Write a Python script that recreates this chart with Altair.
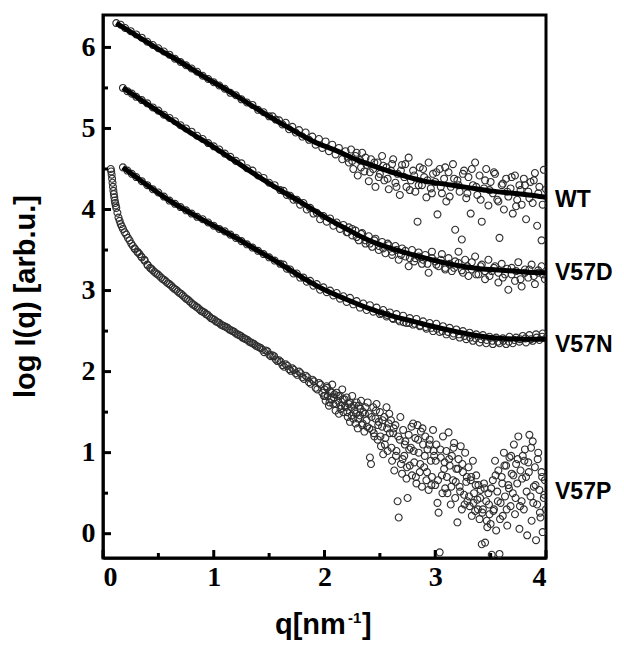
import altair as alt
import pandas as pd

# ---------------- fitted curves (solid black lines) ----------------
fit_wt_q = [0.12, 0.3, 0.5, 0.7, 0.9, 1.1, 1.3, 1.5, 1.7, 1.9, 2.1, 2.3, 2.5, 2.7, 2.9, 3.1, 3.3, 3.5, 3.7, 3.9, 4.0]
fit_wt_y = [6.30, 6.15, 5.98, 5.82, 5.65, 5.49, 5.32, 5.15, 4.99, 4.84, 4.73, 4.61, 4.51, 4.42, 4.35, 4.31, 4.27, 4.23, 4.20, 4.17, 4.15]

fit_d_q = [0.18, 0.4, 0.6, 0.8, 1.0, 1.2, 1.4, 1.6, 1.8, 2.0, 2.2, 2.4, 2.6, 2.8, 3.0, 3.2, 3.4, 3.6, 3.8, 4.0]
fit_d_y = [5.50, 5.30, 5.12, 4.94, 4.77, 4.59, 4.41, 4.24, 4.08, 3.91, 3.76, 3.62, 3.52, 3.44, 3.37, 3.31, 3.27, 3.25, 3.23, 3.22]

fit_n_q = [0.18, 0.4, 0.6, 0.8, 1.0, 1.2, 1.4, 1.6, 1.8, 2.0, 2.2, 2.4, 2.6, 2.8, 3.0, 3.2, 3.4, 3.6, 3.8, 4.0]
fit_n_y = [4.52, 4.30, 4.11, 3.95, 3.80, 3.65, 3.49, 3.33, 3.16, 3.01, 2.89, 2.78, 2.69, 2.62, 2.55, 2.49, 2.44, 2.41, 2.40, 2.40]

# ---------------- measured points (open circles) ----------------
wt_q = [0.12, 0.16, 0.20, 0.25, 0.30, 0.35, 0.40, 0.45, 0.50, 0.55, 0.60, 0.65, 0.70, 0.75, 0.80, 0.85, 0.90, 0.95,
        1.00, 1.05, 1.10, 1.15, 1.20, 1.25, 1.30, 1.35, 1.40, 1.45, 1.50,
        1.53, 1.56, 1.59, 1.62, 1.65, 1.68, 1.71, 1.74, 1.77, 1.80, 1.83, 1.86, 1.89, 1.92, 1.95, 1.98,
        2.01, 2.04, 2.07, 2.10, 2.13, 2.16, 2.19,
        2.22, 2.24, 2.26, 2.28, 2.30, 2.32, 2.34, 2.36, 2.38, 2.40, 2.42, 2.44, 2.46, 2.48, 2.50, 2.52,
        2.54, 2.56, 2.58, 2.60, 2.62, 2.64, 2.66, 2.68, 2.70, 2.72, 2.74, 2.76, 2.78, 2.80, 2.82, 2.84,
        2.86, 2.88, 2.90, 2.92, 2.94, 2.96, 2.98, 3.00, 3.02, 3.04, 3.06, 3.08, 3.10, 3.12, 3.14, 3.16,
        3.18, 3.20, 3.22, 3.24, 3.26, 3.28, 3.30, 3.32, 3.34, 3.36, 3.38, 3.40, 3.42, 3.44, 3.46, 3.48,
        3.50, 3.52, 3.54, 3.56, 3.58, 3.60, 3.62, 3.64, 3.66, 3.68, 3.70, 3.72, 3.74, 3.76, 3.78, 3.80,
        3.82, 3.84, 3.86, 3.88, 3.90, 3.92, 3.94, 3.96, 3.98, 4.00]
wt_y = [6.30, 6.28, 6.24, 6.20, 6.16, 6.12, 6.07, 6.03, 5.99, 5.95, 5.91, 5.86, 5.82, 5.78, 5.74, 5.70, 5.65, 5.61,
        5.57, 5.53, 5.49, 5.44, 5.41, 5.36, 5.32, 5.29, 5.23, 5.20, 5.15,
        5.15, 5.11, 5.10, 5.05, 5.07, 4.99, 5.02, 4.95, 4.98, 4.90, 4.95, 4.86, 4.90, 4.80, 4.87, 4.76,
        4.84, 4.72, 4.80, 4.68, 4.76, 4.62, 4.72,
        4.58, 4.74, 4.50, 4.66, 4.42, 4.61, 4.70, 4.47, 4.55, 4.35, 4.62, 4.50, 4.28, 4.58, 4.44, 4.66,
        4.36, 4.52, 4.25, 4.48, 4.62, 4.33, 4.44, 4.18, 4.55, 4.40, 4.28, 4.64, 4.36, 4.48, 4.22, 3.85,
        4.52, 4.30, 4.40, 4.15, 4.58, 4.26, 4.44, 4.34, 3.94, 4.50, 4.20, 4.38, 4.10, 4.46, 4.28, 4.56,
        3.75, 4.36, 4.22, 3.63, 4.48, 4.14, 4.40, 3.95, 4.30, 4.58, 4.18, 4.42, 3.85, 4.26, 4.50, 4.05,
        4.34, 4.20, 4.44, 4.12, 3.65, 4.30, 4.00, 4.38, 4.16, 4.26, 3.95, 4.42, 4.12, 4.30, 4.06, 4.38,
        3.88, 4.22, 4.34, 4.08, 4.45, 3.80, 4.28, 3.62, 4.49, 4.25]
wt2_q = [2.21, 2.25, 2.29, 2.33, 2.37, 2.41, 2.45, 2.49, 2.53, 2.57, 2.61, 2.65, 2.69, 2.73, 2.77, 2.81,
         2.85, 2.89, 2.93, 2.97, 3.01, 3.05, 3.09, 3.13, 3.17, 3.21, 3.25, 3.29, 3.33, 3.37, 3.41, 3.45,
         3.49, 3.53, 3.57, 3.61, 3.65, 3.69, 3.73, 3.77, 3.81, 3.85, 3.89, 3.93, 3.97]
wt2_y = [4.64, 4.60, 4.70, 4.52, 4.64, 4.46, 4.58, 4.40, 4.54, 4.38, 4.56, 4.28, 4.48, 4.56, 4.24, 4.42,
         4.30, 4.50, 4.36, 4.20, 4.46, 4.28, 4.52, 4.16, 4.38, 4.30, 4.44, 4.20, 4.50, 4.28, 4.12, 4.36,
         4.24, 4.46, 4.10, 4.32, 4.22, 4.40, 4.04, 4.24, 4.30, 4.14, 4.36, 4.20, 4.06]

d_q = [0.18, 0.22, 0.26, 0.30, 0.35, 0.40, 0.45, 0.50, 0.55, 0.60, 0.65, 0.70, 0.75, 0.80, 0.85, 0.90, 0.95,
       1.00, 1.05, 1.10, 1.15, 1.20, 1.25, 1.30, 1.35, 1.40, 1.45, 1.50, 1.55, 1.60,
       1.63, 1.66, 1.69, 1.72, 1.75, 1.78, 1.81, 1.84, 1.87, 1.90, 1.93, 1.96, 1.99, 2.02, 2.05, 2.08,
       2.11, 2.14, 2.17, 2.20,
       2.22, 2.25, 2.28, 2.31, 2.34, 2.37, 2.40, 2.43, 2.46, 2.49, 2.52, 2.55, 2.58, 2.61, 2.64, 2.67,
       2.70, 2.73, 2.76, 2.79, 2.82, 2.85, 2.88, 2.91, 2.94, 2.97, 3.00, 3.03, 3.06, 3.09, 3.12, 3.15,
       3.18, 3.21, 3.24, 3.27, 3.30, 3.33, 3.36, 3.39, 3.42, 3.45, 3.48, 3.51, 3.54, 3.57, 3.60, 3.63,
       3.66, 3.69, 3.72, 3.75, 3.78, 3.81, 3.84, 3.87, 3.90, 3.93, 3.96, 3.99]
d_y = [5.50, 5.46, 5.43, 5.39, 5.35, 5.31, 5.26, 5.22, 5.17, 5.13, 5.09, 5.04, 5.00, 4.96, 4.91, 4.87, 4.82,
       4.78, 4.74, 4.69, 4.65, 4.60, 4.57, 4.51, 4.48, 4.42, 4.39, 4.33, 4.30, 4.24,
       4.23, 4.18, 4.17, 4.12, 4.12, 4.06, 4.08, 4.00, 4.02, 3.95, 3.96, 3.88, 3.92, 3.85, 3.89, 3.80,
       3.84, 3.76, 3.81, 3.72,
       3.78, 3.68, 3.74, 3.62, 3.71, 3.58, 3.67, 3.54, 3.64, 3.50, 3.60, 3.46, 3.56, 3.44, 3.55, 3.38,
       3.52, 3.42, 3.30, 3.50, 3.40, 3.47, 3.33, 3.44, 3.22, 3.48, 3.36, 3.30, 3.45, 3.28, 3.40, 3.24,
       3.36, 3.48, 3.25, 3.38, 3.18, 3.35, 3.42, 3.20, 3.32, 3.14, 3.38, 3.24, 3.30, 3.10, 3.33, 3.20,
       3.01, 3.28, 3.12, 3.35, 3.05, 3.26, 3.16, 3.32, 3.08, 3.22, 3.30, 3.14]
d2_q = [2.21, 2.25, 2.29, 2.33, 2.37, 2.41, 2.45, 2.49, 2.53, 2.57, 2.61, 2.65, 2.69, 2.73, 2.77, 2.81,
        2.85, 2.89, 2.93, 2.97, 3.01, 3.05, 3.09, 3.13, 3.17, 3.21, 3.25, 3.29, 3.33, 3.37, 3.41, 3.45,
        3.49, 3.53, 3.57, 3.61, 3.65, 3.69, 3.73, 3.77, 3.81, 3.85, 3.89, 3.93, 3.97]
d2_y = [3.72, 3.76, 3.66, 3.70, 3.62, 3.58, 3.62, 3.55, 3.52, 3.58, 3.48, 3.50, 3.44, 3.49, 3.40, 3.36,
        3.42, 3.38, 3.33, 3.40, 3.32, 3.38, 3.26, 3.33, 3.28, 3.34, 3.22, 3.30, 3.26, 3.20, 3.30, 3.24,
        3.18, 3.28, 3.22, 3.16, 3.27, 3.20, 3.24, 3.14, 3.22, 3.26, 3.18, 3.25, 3.20]

n_q = [0.18, 0.22, 0.26, 0.30, 0.35, 0.40, 0.45, 0.50, 0.55, 0.60, 0.65, 0.70, 0.75, 0.80, 0.85, 0.90, 0.95,
       1.00, 1.05, 1.10, 1.15, 1.20, 1.25, 1.30, 1.35, 1.40, 1.45, 1.50, 1.55, 1.60,
       1.63, 1.66, 1.69, 1.72, 1.75, 1.78, 1.81, 1.84, 1.87, 1.90, 1.93, 1.96, 1.99, 2.02, 2.05, 2.08,
       2.11, 2.14, 2.17, 2.20, 2.23, 2.26, 2.29, 2.32, 2.35, 2.38, 2.41, 2.44, 2.47, 2.50, 2.53, 2.56,
       2.59, 2.62, 2.65, 2.68, 2.71, 2.74, 2.77, 2.80, 2.83, 2.86, 2.89, 2.92, 2.95, 2.98, 3.01, 3.04,
       3.07, 3.10, 3.13, 3.16, 3.19, 3.22, 3.25, 3.28, 3.31, 3.34, 3.37, 3.40, 3.43, 3.46, 3.49, 3.52,
       3.55, 3.58, 3.61, 3.64, 3.67, 3.70, 3.73, 3.76, 3.79, 3.82, 3.85, 3.88, 3.91, 3.94, 3.97, 4.00]
n_y = [4.52, 4.48, 4.44, 4.40, 4.35, 4.30, 4.25, 4.21, 4.16, 4.11, 4.07, 4.03, 3.99, 3.95, 3.91, 3.88, 3.84,
       3.80, 3.76, 3.73, 3.69, 3.65, 3.61, 3.57, 3.53, 3.49, 3.45, 3.41, 3.37, 3.33,
       3.32, 3.27, 3.26, 3.21, 3.21, 3.16, 3.16, 3.11, 3.12, 3.06, 3.08, 3.01, 3.04, 2.98, 3.00, 2.94,
       2.97, 2.90, 2.93, 2.86, 2.91, 2.83, 2.87, 2.79, 2.84, 2.76, 2.82, 2.74, 2.79, 2.71, 2.76, 2.68,
       2.73, 2.65, 2.71, 2.62, 2.69, 2.60, 2.66, 2.58, 2.65, 2.56, 2.62, 2.53, 2.60, 2.50, 2.59, 2.49,
       2.56, 2.46, 2.54, 2.44, 2.52, 2.42, 2.50, 2.40, 2.48, 2.38, 2.46, 2.36, 2.45, 2.35, 2.43, 2.34,
       2.42, 2.35, 2.41, 2.34, 2.43, 2.35, 2.42, 2.37, 2.44, 2.36, 2.45, 2.38, 2.46, 2.39, 2.47, 2.41]
n2_q = [2.515, 2.565, 2.615, 2.665, 2.715, 2.765, 2.815, 2.865, 2.915, 2.965, 3.015, 3.065, 3.115, 3.165, 3.215,
        3.265, 3.315, 3.365, 3.415, 3.465, 3.515, 3.565, 3.615, 3.665, 3.715, 3.765, 3.815, 3.865, 3.915, 3.965]
n2_y = [2.72, 2.70, 2.66, 2.64, 2.61, 2.60, 2.59, 2.57, 2.55, 2.54, 2.53, 2.50, 2.49, 2.47, 2.46,
        2.44, 2.42, 2.41, 2.40, 2.39, 2.38, 2.37, 2.38, 2.37, 2.39, 2.40, 2.41, 2.40, 2.42, 2.43]

p_q = [0.070, 0.074, 0.078, 0.082, 0.086, 0.090, 0.094, 0.098, 0.102, 0.106, 0.110, 0.115, 0.120, 0.130,
       0.140, 0.150, 0.160, 0.170, 0.180, 0.195, 0.210, 0.225, 0.240, 0.255, 0.270, 0.290, 0.310, 0.330,
       0.350, 0.375, 0.400, 0.425, 0.450, 0.480, 0.510, 0.540, 0.570, 0.600, 0.630, 0.660, 0.690, 0.720,
       0.750, 0.780, 0.810, 0.840, 0.870, 0.900, 0.930, 0.960, 0.990, 1.020, 1.050, 1.080, 1.110, 1.140,
       1.170, 1.200, 1.230, 1.260, 1.290, 1.320, 1.350, 1.380, 1.410, 1.440, 1.470, 1.500, 1.530, 1.560,
       1.590, 1.620, 1.650, 1.680, 1.710, 1.740, 1.770, 1.800, 1.830, 1.860, 1.890, 1.920, 1.950, 1.980,
       2.00, 2.01, 2.02, 2.03, 2.04, 2.05, 2.06, 2.07, 2.08, 2.09,
       2.10, 2.11, 2.12, 2.13, 2.14, 2.15, 2.16, 2.17, 2.18, 2.19,
       2.20, 2.21, 2.22, 2.23, 2.24, 2.25, 2.26, 2.27, 2.28, 2.29,
       2.30, 2.31, 2.32, 2.33, 2.34, 2.35, 2.36, 2.37, 2.38, 2.39,
       2.40, 2.41, 2.42, 2.43, 2.44, 2.45, 2.46, 2.47, 2.48, 2.49,
       2.50, 2.51, 2.52, 2.53, 2.54, 2.55, 2.56, 2.57, 2.58, 2.59,
       2.60, 2.61, 2.62, 2.63, 2.64, 2.65, 2.66, 2.67, 2.68, 2.69,
       2.70, 2.71, 2.72, 2.73, 2.74, 2.75, 2.76, 2.77, 2.78, 2.79,
       2.80, 2.81, 2.82, 2.83, 2.84, 2.85, 2.86, 2.87, 2.88, 2.89,
       2.90, 2.91, 2.92, 2.93, 2.94, 2.95, 2.96, 2.97, 2.98, 2.99,
       3.00, 3.01, 3.02, 3.03, 3.04, 3.05, 3.06, 3.07, 3.08, 3.09,
       3.10, 3.11, 3.12, 3.13, 3.14, 3.15, 3.16, 3.17, 3.18, 3.19,
       3.20, 3.21, 3.22, 3.23, 3.24, 3.25, 3.26, 3.27, 3.28, 3.29,
       3.30, 3.31, 3.32, 3.33, 3.34, 3.35, 3.36, 3.37, 3.38, 3.39,
       3.40, 3.41, 3.42, 3.43, 3.44, 3.45, 3.46, 3.47, 3.48, 3.49,
       3.50, 3.51, 3.52, 3.53, 3.54, 3.55, 3.56, 3.57, 3.58, 3.59,
       3.60, 3.61, 3.62, 3.63, 3.64, 3.65, 3.66, 3.67, 3.68, 3.69,
       3.70, 3.71, 3.72, 3.73, 3.74, 3.75, 3.76, 3.77, 3.78, 3.79,
       3.80, 3.81, 3.82, 3.83, 3.84, 3.85, 3.86, 3.87, 3.88, 3.89,
       3.90, 3.91, 3.92, 3.93, 3.94, 3.95, 3.96, 3.97, 3.98, 3.99, 4.00]
p_y = [4.50, 4.47, 4.43, 4.38, 4.33, 4.28, 4.23, 4.19, 4.15, 4.11, 4.08, 4.05, 4.02, 3.96,
       3.90, 3.86, 3.82, 3.79, 3.76, 3.72, 3.69, 3.65, 3.62, 3.58, 3.55, 3.51, 3.48, 3.45,
       3.41, 3.37, 3.32, 3.28, 3.25, 3.21, 3.18, 3.14, 3.11, 3.08, 3.04, 3.01, 2.97, 2.94,
       2.90, 2.87, 2.83, 2.80, 2.77, 2.74, 2.71, 2.68, 2.65, 2.62, 2.60, 2.57, 2.55, 2.52,
       2.50, 2.47, 2.45, 2.42, 2.40, 2.37, 2.35, 2.32, 2.30, 2.27, 2.26, 2.21, 2.20, 2.15,
       2.14, 2.08, 2.09, 2.03, 2.04, 1.98, 2.00, 1.93, 1.95, 1.87, 1.90, 1.80, 1.86, 1.74,
       1.78, 1.64, 1.82, 1.70, 1.58, 1.76, 1.66, 1.84, 1.60, 1.72,
       1.52, 1.74, 1.64, 1.48, 1.70, 1.58, 1.78, 1.50, 1.66, 1.56,
       1.68, 1.44, 1.60, 1.38, 1.56, 1.70, 1.42, 1.52, 1.36, 1.62,
       1.30, 1.58, 1.46, 1.64, 1.34, 1.50, 1.26, 1.56, 1.40, 1.62,
       1.48, 0.94, 0.86, 1.28, 1.56, 1.20, 1.42, 1.60, 1.16, 1.38,
       1.50, 1.08, 1.32, 0.98, 1.44, 1.18, 1.56, 1.02, 1.36, 1.24,
       1.40, 0.90, 1.24, 0.78, 1.34, 1.02, 0.40, 0.20, 1.16, 0.86,
       0.74, 1.28, 0.96, 1.14, 0.68, 0.44, 1.22, 0.84, 1.06, 0.72,
       1.36, 0.88, 1.18, 0.62, 1.34, 1.00, 0.76, 1.26, 0.58, 1.10,
       0.82, 1.20, 0.66, 1.04, 0.54, 1.16, 0.90, 0.70, 1.28, 0.96,
       0.60, 1.10, 0.38, 0.26, -0.23, 0.94, 0.72, 1.20, 0.80, 0.56,
       1.02, 0.50, 1.25, 0.84, 0.36, 0.96, 0.66, 1.12, 0.44, 0.80,
       0.14, 0.92, 0.58, 1.08, 0.30, 0.76, 0.48, 1.00, 0.64, 0.40,
       0.82, 0.34, 0.66, 0.22, 0.90, 0.50, 0.28, 0.72, 0.42, 0.60,
       0.18, 0.54, -0.13, 0.30, 0.62, -0.11, 0.40, 0.08, 0.50, 0.24,
       0.12, -0.26, 0.66, 0.30, 0.90, 0.04, 0.52, 0.78, -0.25, 0.38,
       0.70, 0.22, 1.00, 0.46, 0.84, 0.10, 0.60, 0.94, 0.34, 0.74,
       0.50, 1.10, 0.24, 0.86, 0.62, 1.20, 0.06, 0.78, 0.40, 0.96,
       0.30, 1.04, 0.70, -0.02, 0.88, 1.22, 0.46, 0.16, 1.14, 0.58,
       0.82, -0.08, 0.36, 1.00, 0.54, 0.20, 0.76, 0.02, 0.44, 0.66, 0.30]
p2_q = [0.285, 0.315, 0.345, 0.375, 0.405, 0.435, 0.465, 0.495, 0.525, 0.555, 0.585, 0.615, 0.645, 0.675,
        0.705, 0.735, 0.765, 0.795, 0.825, 0.855, 0.885, 0.915, 0.945, 0.975, 1.005, 1.035, 1.065, 1.095,
        1.125, 1.155, 1.185, 1.215, 1.245, 1.275, 1.305, 1.335, 1.365, 1.395, 1.425, 1.455, 1.485, 1.515,
        1.545, 1.575, 1.605, 1.635, 1.665, 1.695, 1.725, 1.755, 1.785, 1.815, 1.845, 1.875, 1.905, 1.935,
        1.965, 1.995,
        2.005, 2.025, 2.045, 2.065, 2.085, 2.105, 2.125, 2.145, 2.165, 2.185,
        2.205, 2.225, 2.245, 2.265, 2.285, 2.305, 2.325, 2.345, 2.365, 2.385,
        2.405, 2.425, 2.445, 2.465, 2.485, 2.505, 2.525, 2.545, 2.565, 2.585,
        2.605, 2.625, 2.645, 2.665, 2.685, 2.705, 2.725, 2.745, 2.765, 2.785,
        2.805, 2.825, 2.845, 2.865, 2.885, 2.905, 2.925, 2.945, 2.965, 2.985,
        3.005, 3.025, 3.045, 3.065, 3.085, 3.105, 3.125, 3.145, 3.165, 3.185,
        3.205, 3.225, 3.245, 3.265, 3.285, 3.305, 3.325, 3.345, 3.365, 3.385,
        3.405, 3.425, 3.445, 3.465, 3.485, 3.505, 3.525, 3.545, 3.565, 3.585,
        3.605, 3.625, 3.645, 3.665, 3.685, 3.705, 3.725, 3.745, 3.765, 3.785,
        3.805, 3.825, 3.845, 3.865, 3.885, 3.905, 3.925, 3.945, 3.965, 3.985]
p2_y = [3.52, 3.47, 3.42, 3.38, 3.31, 3.27, 3.23, 3.20, 3.16, 3.13, 3.09, 3.06, 3.02, 2.99,
        2.96, 2.92, 2.89, 2.85, 2.82, 2.79, 2.75, 2.73, 2.70, 2.66, 2.64, 2.61, 2.58, 2.56,
        2.54, 2.51, 2.49, 2.46, 2.44, 2.41, 2.39, 2.36, 2.34, 2.31, 2.29, 2.24, 2.25, 2.19,
        2.19, 2.13, 2.12, 2.06, 2.07, 2.01, 2.02, 1.96, 1.98, 1.91, 1.93, 1.85, 1.88, 1.78,
        1.84, 1.70,
        1.70, 1.80, 1.62, 1.74, 1.68, 1.60, 1.70, 1.54, 1.66, 1.58,
        1.50, 1.62, 1.46, 1.58, 1.48, 1.42, 1.54, 1.36, 1.48, 1.32,
        1.30, 1.44, 1.24, 1.52, 1.34, 1.20, 1.40, 1.10, 1.30, 1.48,
        1.06, 1.30, 0.96, 1.20, 1.44, 0.92, 1.10, 0.82, 1.04, 1.32,
        1.02, 0.70, 1.16, 0.86, 1.30, 0.96, 0.76, 1.10, 0.60, 1.02,
        0.90, 0.66, 1.04, 0.50, 0.88, 0.70, 0.92, 0.58, 1.06, 0.64,
        0.80, 0.52, 0.86, 0.36, 0.70, 0.46, 0.70, 0.38, 0.60, 0.30,
        0.44, 0.26, 0.56, 0.16, 0.36, 0.56, 0.28, 0.72, 0.40, 0.18,
        0.62, 0.84, 0.30, 0.56, 0.96, 0.72, 0.44, 0.92, 0.34, 0.68,
        0.90, 0.52, 0.76, 1.06, 0.38, 0.60, 0.92, 0.26, 0.70, 0.48]

series_names = ["WT", "V57D", "V57N", "V57P"]
label_y = [4.12, 3.22, 2.33, 0.51]

x_major = [0, 1, 2, 3, 4]
x_minor = [0.5, 1.5, 2.5, 3.5]
y_major = [0, 1, 2, 3, 4, 5, 6]
y_minor = [0.5, 1.5, 2.5, 3.5, 4.5, 5.5]

# ---------------- tables ----------------
pts = pd.concat([
    pd.DataFrame({"q": wt_q, "v": wt_y, "s": "WT"}),
    pd.DataFrame({"q": wt2_q, "v": wt2_y, "s": "WT"}),
    pd.DataFrame({"q": d_q, "v": d_y, "s": "V57D"}),
    pd.DataFrame({"q": d2_q, "v": d2_y, "s": "V57D"}),
    pd.DataFrame({"q": n_q, "v": n_y, "s": "V57N"}),
    pd.DataFrame({"q": n2_q, "v": n2_y, "s": "V57N"}),
    pd.DataFrame({"q": p_q, "v": p_y, "s": "V57P"}),
    pd.DataFrame({"q": p2_q, "v": p2_y, "s": "V57P"}),
], ignore_index=True)
fits = pd.concat([
    pd.DataFrame({"q": fit_wt_q, "v": fit_wt_y, "s": "WT"}),
    pd.DataFrame({"q": fit_d_q, "v": fit_d_y, "s": "V57D"}),
    pd.DataFrame({"q": fit_n_q, "v": fit_n_y, "s": "V57N"}),
], ignore_index=True)
labels = pd.DataFrame({"name": series_names, "v": label_y})

W, H = 443, 543
FONT = "Liberation Sans"
NARROW = "Liberation Sans Narrow"

xs = alt.Scale(domain=[0, 4], nice=False, zero=False)
ys = alt.Scale(domain=[-0.3, 6.4], nice=False, zero=False)

x_axis = alt.Axis(values=x_major, format="d", tickSize=0, labelPadding=5, grid=False,
                  labelFontSize=28, labelFont=NARROW, labelFontWeight="bold", labelColor="black",
                  domainColor="black", domainWidth=2.5, title="")
y_axis = alt.Axis(values=y_major, format="d", tickSize=0, labelPadding=8, grid=False,
                  labelFontSize=28, labelFont=NARROW, labelFontWeight="bold", labelColor="black",
                  domainColor="black", domainWidth=2.5,
                  title="log I(q) [arb.u.]", titleFontSize=29, titleFont=FONT, titleFontWeight="bold",
                  titleColor="black", titleAngle=270, titleAlign="center", titleBaseline="middle",
                  titleX=-78, titleY=281)

X = lambda f: alt.X(f, scale=xs, axis=x_axis)
Y = lambda f: alt.Y(f, scale=ys, axis=y_axis)

points = alt.Chart(pts).mark_point(shape="circle", filled=False, size=48, stroke="#2e2e2e",
                                   strokeWidth=1.1, opacity=1, clip=True).encode(
    x=X("q:Q"), y=Y("v:Q"))

lines = alt.Chart(fits).mark_line(color="black", strokeWidth=5, interpolate="monotone").encode(
    x=X("q:Q"), y=Y("v:Q"), detail="s:N")

xt_major = alt.Chart(pd.DataFrame({"q": x_major})).mark_rule(color="black", strokeWidth=3).encode(
    x=X("q:Q"), y=alt.value(H), y2=alt.value(H - 8))
xt_minor = alt.Chart(pd.DataFrame({"q": x_minor})).mark_rule(color="black", strokeWidth=3).encode(
    x=X("q:Q"), y=alt.value(H), y2=alt.value(H - 5))
yt_major = alt.Chart(pd.DataFrame({"v": y_major})).mark_rule(color="black", strokeWidth=3).encode(
    y=Y("v:Q"), x=alt.value(0), x2=alt.value(8))
yt_minor = alt.Chart(pd.DataFrame({"v": y_minor})).mark_rule(color="black", strokeWidth=3).encode(
    y=Y("v:Q"), x=alt.value(0), x2=alt.value(5))

texts = alt.Chart(labels).mark_text(align="left", baseline="middle", font=FONT, fontWeight="bold",
                                    fontSize=23, color="black").encode(
    y=Y("v:Q"), x=alt.value(W + 9), text="name:N")

# x-axis title  q[nm^-1]  built from three text pieces (main text, superscript, bracket)
xtitle_main = alt.Chart(pd.DataFrame({"t": ["q[nm"]})).mark_text(
    align="left", baseline="alphabetic", font=FONT, fontWeight="bold", fontSize=29, color="black").encode(
    text="t:N", x=alt.value(172), y=alt.value(619))
xtitle_sup = alt.Chart(pd.DataFrame({"t": ["-1"]})).mark_text(
    align="left", baseline="alphabetic", font=FONT, fontWeight="bold", fontSize=15, color="black").encode(
    text="t:N", x=alt.value(245), y=alt.value(608))
xtitle_end = alt.Chart(pd.DataFrame({"t": ["]"]})).mark_text(
    align="left", baseline="alphabetic", font=FONT, fontWeight="bold", fontSize=29, color="black").encode(
    text="t:N", x=alt.value(259), y=alt.value(619))

chart = alt.layer(points, lines, xt_major, xt_minor, yt_major, yt_minor, texts,
                  xtitle_main, xtitle_sup, xtitle_end).properties(
    width=W, height=H,
    autosize=alt.AutoSizeParams(type="none"),
    padding={"left": 95, "top": 7, "right": 70, "bottom": 84},
).configure_view(stroke="black", strokeWidth=3)

chart.save("out.html", embed_options={"renderer": "svg", "actions": False})
